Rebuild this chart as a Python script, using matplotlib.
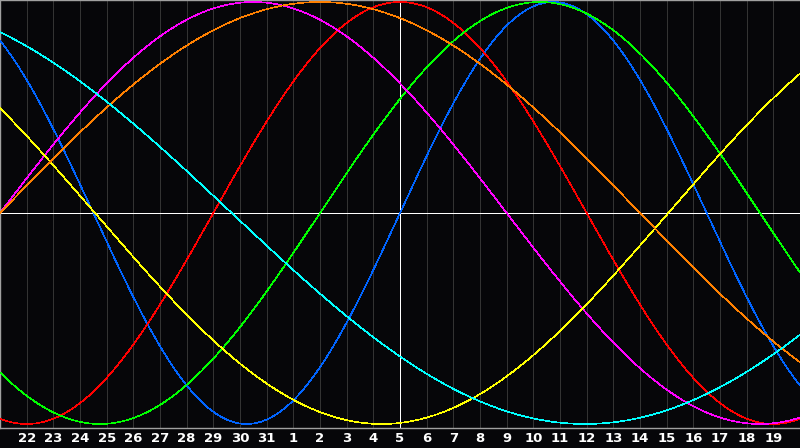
import numpy as np
import matplotlib
matplotlib.use("Agg")
import matplotlib.pyplot as plt

# Day labels along the x axis (one per gridline)
day_labels = ["22", "23", "24", "25", "26", "27", "28", "29", "30", "31",
              "1", "2", "3", "4", "5", "6", "7", "8", "9", "10", "11",
              "12", "13", "14", "15", "16", "17", "18", "19"]

# Cycle periods (days) and the day index at which each cycle crosses zero upward
periods = [23, 28, 33, 38, 43, 48, 53]
zero_up_day = [14.0, 7.0, 11.0, -1.0, -18.94, -1.0, -18.81]
colors = ["#0064ff", "#ff0000", "#00ff00", "#ff00ff", "#ffff00", "#ff8000", "#00ffff"]

today_index = 14

W, H = 800, 448
fig = plt.figure(figsize=(W / 100, H / 100), dpi=100)
fig.patch.set_facecolor("#060609")
ax = fig.add_axes([0, 20 / H, 1, 428 / H])
ax.set_facecolor("#060609")

x_min, x_max = -1, len(day_labels)
ax.set_xlim(x_min, x_max)
ax.set_ylim(-215 / 211, 213 / 211)

px = 0.72
for i in range(len(day_labels)):
    if i != today_index:
        ax.axvline(i, color="#333333", lw=px, antialiased=False, zorder=1)

t = np.linspace(x_min, x_max, 2000)
for P, t0, c in zip(periods, zero_up_day, colors):
    ax.plot(t, np.sin(2 * np.pi * (t - t0) / P), color=c, lw=0.45,
            antialiased=False, zorder=3)

ax.axhline(0, color="white", lw=px, antialiased=False, zorder=2)
ax.axvline(today_index, color="white", lw=px, antialiased=False, zorder=2)

for side in ["left", "top", "bottom"]:
    ax.spines[side].set_color("#a0a0a0")
    ax.spines[side].set_linewidth(1.0)
ax.spines["right"].set_visible(False)

ax.set_yticks([])
ax.set_xticks(range(len(day_labels)))
ax.set_xticklabels(day_labels, color="white", fontweight="bold",
                   fontsize=9.5, family="DejaVu Sans")
ax.tick_params(axis="x", length=0, pad=3)

fig.savefig("out.png", dpi=100, facecolor=fig.get_facecolor())
